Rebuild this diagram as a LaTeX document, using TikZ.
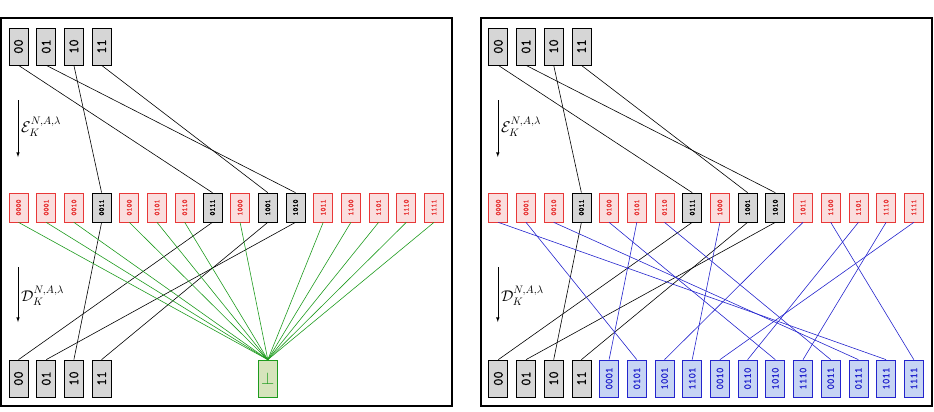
\RequirePackage{fix-cm}
\documentclass[tikz,border=0pt]{standalone}
\usepackage{amsmath}
\usepackage{amssymb}
\usepackage{fontspec}
\setmonofont{Latin Modern Mono}[FakeBold=1.2]
\usepackage{graphicx}
\usepackage{tikz}
\usepackage{xcolor}
\usetikzlibrary{arrows}

\definecolor{keygray}{RGB}{214,214,214}
\definecolor{badfill}{RGB}{250,222,222}
\definecolor{badline}{RGB}{232,56,56}
\definecolor{outfill}{RGB}{198,212,244}
\definecolor{outline}{RGB}{36,36,205}
\definecolor{botfill}{RGB}{214,228,188}
\definecolor{botline}{RGB}{30,155,30}

\tikzset{
	keybox/.style = {draw, fill=keygray, line width=0.7pt, minimum width=19pt, minimum height=37pt, inner sep=0pt, font=\fontsize{14}{14}\ttfamily},
	ctbox/.style = {draw, fill=keygray, line width=0.7pt, minimum width=19pt, minimum height=29pt, inner sep=0pt, font=\fontsize{7.6}{7.6}\ttfamily},
	badbox/.style = {ctbox, draw=badline, fill=badfill, text=badline},
	outbox/.style = {keybox, draw=outline, fill=outfill, text=outline, font=\fontsize{10.5}{10.5}\ttfamily},
	botbox/.style = {keybox, draw=botline, fill=botfill, text=botline, font=\fontsize{17}{17}\selectfont},
	frame/.style = {line width=1.6pt},
	wire/.style = {line width=0.6pt},
	greenwire/.style = {wire, draw=botline},
	bluewire/.style = {wire, draw=outline}
}

\begin{document}
\begin{tikzpicture}[x=1pt, y=-1pt]
	\useasboundingbox (0,0) rectangle (934,412);

	% both panels: keys, ciphertexts, E and D
	\foreach \p/\dx in {L/0, R/479.8} {
		\draw[frame] (\dx+1,18) rectangle (\dx+452,406);

		\foreach \k [count=\i from 0] in {00,01,10,11} {
			\node[keybox] (\p-t\k) at ({\dx+18.5+27.7*\i},46.5)  {\rotatebox{90}{\k}};
			\node[keybox] (\p-b\k) at ({\dx+18.5+27.7*\i},378.5) {\rotatebox{90}{\k}};
		}
		\foreach \c/\s [count=\i from 0] in {0000/badbox,0001/badbox,0010/badbox,0011/ctbox,0100/badbox,0101/badbox,0110/badbox,0111/ctbox,1000/badbox,1001/ctbox,1010/ctbox,1011/badbox,1100/badbox,1101/badbox,1110/badbox,1111/badbox}
			\node[\s] (\p-m\c) at ({\dx+18.5+27.7*\i},207.5) {\rotatebox{90}{\c}};

		\foreach \k/\c in {00/0111,01/1010,10/0011,11/1001} {
			\draw[wire] (\p-t\k.south) -- (\p-m\c.north);
			\draw[wire] (\p-m\c.south) -- (\p-b\k.north);
		}

		\coordinate (\p-e1) at (\dx+18,100);
		\coordinate (\p-e2) at (\dx+18,157);
		\coordinate (\p-d1) at (\dx+18,267);
		\coordinate (\p-d2) at (\dx+18,322);
		\draw[-latex, wire] (\p-e1) -- (\p-e2);
		\draw[-latex, wire] (\p-d1) -- (\p-d2);
		\node[anchor=west, inner sep=1pt, font=\fontsize{15.5}{17}\selectfont] (\p-enc) at (\dx+20,127) {$\mathcal{E}_K^{N,A,\lambda}$};
		\node[anchor=west, inner sep=1pt, font=\fontsize{15.5}{17}\selectfont] (\p-dec) at (\dx+20,296) {$\mathcal{D}_K^{N,A,\lambda}$};
	}

	% left: everything else to bottom
	\node[botbox] (L-bot) at (267.8,378.5) {$\bot$};
	\foreach \c in {0000,0001,0010,0100,0101,0110,1000,1011,1100,1101,1110,1111}
		\draw[greenwire] (L-m\c.south) -- (L-bot.north);

	% right: everything else to some plaintext
	\foreach \c [count=\i from 4] in {0001,0101,1001,1101,0010,0110,1010,1110,0011,0111,1011,1111}
		\node[outbox] (R-b\c) at ({479.8+18.5+27.7*\i},378.5) {\rotatebox{90}{\c}};
	\foreach \a/\b in {0000/1011,0001/0101,0010/0111,0100/1010,0101/0001,0110/0011,1000/1101,1011/1001,1100/1111,1101/0110,1110/1110,1111/0010}
		\draw[bluewire] (R-m\a.south) -- (R-b\b.north);
\end{tikzpicture}
\end{document}
